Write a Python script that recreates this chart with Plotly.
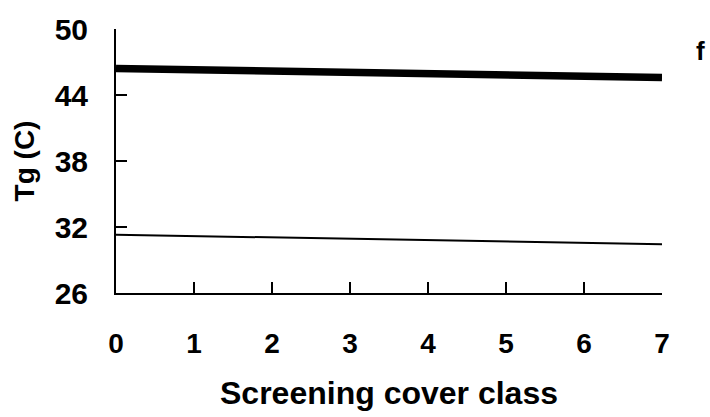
import plotly.graph_objects as go

# Screening cover class (x) and ground temperature Tg in degrees C
cover_class = [0, 7]
tg_upper = [46.4, 45.6]
tg_lower = [31.3, 30.43]

x_ticks = [0, 1, 2, 3, 4, 5, 6, 7]
y_ticks = [26, 32, 38, 44, 50]

FONT = "Liberation Sans, Arial, sans-serif"

fig = go.Figure()
fig.add_trace(go.Scatter(x=cover_class, y=tg_upper, mode="lines",
                         line=dict(color="black", width=7.5), showlegend=False))
fig.add_trace(go.Scatter(x=cover_class, y=tg_lower, mode="lines",
                         line=dict(color="black", width=2), showlegend=False))

fig.update_layout(
    width=710, height=417,
    margin=dict(l=116, r=48, t=25, b=123),
    paper_bgcolor="white", plot_bgcolor="white",
    font=dict(family=FONT, color="black"),
    xaxis=dict(
        range=[0, 7], tickvals=x_ticks, ticks="inside", ticklen=11, tickwidth=2,
        tickcolor="black", showline=True, linecolor="black", linewidth=2,
        showgrid=False, zeroline=False,
        tickfont=dict(family=FONT, size=28, color="black", weight="bold"),
        ticklabelstandoff=24,
        title=dict(text="<b>Screening cover class</b>",
                   font=dict(family=FONT, size=32, color="black"), standoff=24),
    ),
    yaxis=dict(
        range=[26, 50], tickvals=y_ticks, ticks="inside", ticklen=11, tickwidth=2,
        tickcolor="black", showline=True, linecolor="black", linewidth=2,
        showgrid=False, zeroline=False,
        tickfont=dict(family=FONT, size=30, color="black", weight="bold"),
        ticklabelstandoff=20,
        title=dict(text="<b>Tg (C)</b>",
                   font=dict(family=FONT, size=28, color="black"), standoff=12),
    ),
)

fig.add_annotation(text="<b>f</b>", xref="paper", yref="paper",
                   x=1.0, y=0.915, xanchor="left", yanchor="middle", xshift=32,
                   showarrow=False, font=dict(family=FONT, size=26, color="black"))

fig.write_html("out.html")
